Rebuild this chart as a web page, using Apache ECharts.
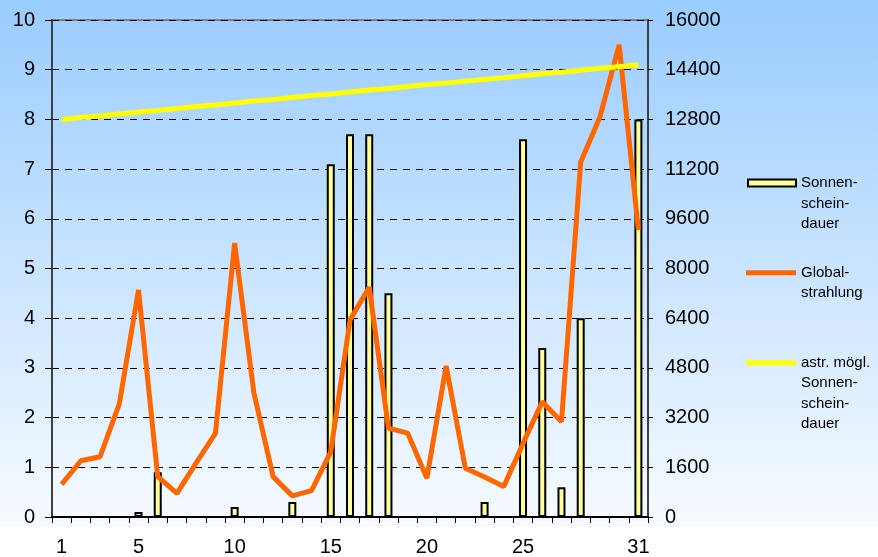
<!DOCTYPE html>
<html>
<head>
<meta charset="utf-8">
<script src="https://cdn.jsdelivr.net/npm/echarts@6/dist/echarts.min.js"></script>
<style>
html,body{margin:0;padding:0;background:#fff;}
#chart{width:878px;height:557px;}
</style>
</head>
<body>
<div id="chart"></div>
<script>
const days = ['1','2','3','4','5','6','7','8','9','10','11','12','13','14','15','16','17','18','19','20','21','22','23','24','25','26','27','28','29','30','31'];
const shownDayLabels = ['1','5','10','15','20','25','31'];
// Sonnenscheindauer (h), left axis
const sunshine = [0,0,0,0,0.1,0.9,0,0,0,0.2,0,0,0.3,0,7.1,7.7,7.7,4.5,0,0,0,0,0.3,0,7.6,3.4,0.6,4.0,0,0,8.0];
// Globalstrahlung, right axis
const globalRad = [1050,1810,1940,3640,7310,1300,760,1740,2690,8820,4000,1300,680,850,2100,6340,7400,2860,2700,1250,4860,1570,1290,980,2370,3710,3070,11430,12880,15200,9240];
// astr. mögl. Sonnenscheindauer (h), left axis
const astro = [8.00,8.04,8.07,8.11,8.15,8.18,8.22,8.26,8.29,8.33,8.37,8.40,8.44,8.48,8.51,8.55,8.59,8.62,8.66,8.70,8.73,8.77,8.81,8.84,8.88,8.92,8.95,8.99,9.03,9.06,9.10];
const leftTicks = {min:0, max:10, interval:1};
const rightTicks = {min:0, max:16000, interval:1600};
const seriesNames = ['Sonnenscheindauer','Globalstrahlung','astr. mögl. Sonnenscheindauer'];
const legendLines = [['Sonnen-','schein-','dauer'],['Global-','strahlung'],['astr. mögl.','Sonnen-','schein-','dauer']];

const FONT = '"Liberation Sans", Arial, sans-serif';
const chart = echarts.init(document.getElementById('chart'));
const LH = 20.5;
const iconCenters = [183, 272.7, 362.7];
const legends = seriesNames.map((n, i) => {
  const lines = legendLines[i];
  const blanks = new Array(lines.length - 1).fill(' ');
  const all = blanks.concat(lines);
  const h = all.length * LH;
  const isBar = i === 0;
  return {
    show: true,
    data: [n],
    orient: 'vertical',
    left: isBar ? 747 : 746,
    top: iconCenters[i] - h / 2,
    itemWidth: isBar ? 48 : 50,
    itemHeight: isBar ? 7 : 5,
    icon: 'rect',
    selectedMode: false,
    padding: 0,
    formatter: () => all.join('\n'),
    textStyle: {fontFamily: FONT, fontSize: 15, lineHeight: LH, color: '#000'}
  };
});

const option = {
  animation: false,
  backgroundColor: {
    type: 'linear', x: 0, y: 0, x2: 0, y2: 1,
    colorStops: [
      {offset: 0, color: '#99ccff'},
      {offset: 0.945, color: '#f7fbff'},
      {offset: 0.946, color: '#ffffff'},
      {offset: 1, color: '#ffffff'}
    ]
  },
  grid: {left: 52, right: 230, top: 20, bottom: 40, show: true, borderColor: '#808080', borderWidth: 2, backgroundColor: 'transparent'},
  legend: legends,
  xAxis: {
    type: 'category',
    data: days,
    boundaryGap: true,
    axisLine: {lineStyle: {color: '#000', width: 2}},
    axisTick: {show: true, interval: 0, length: 6, lineStyle: {color: '#000', width: 1}},
    axisLabel: {
      interval: (idx, val) => shownDayLabels.includes(val),
      fontFamily: FONT, fontSize: 20, color: '#000', margin: 20
    },
    splitLine: {show: false}
  },
  yAxis: [
    {
      type: 'value', min: leftTicks.min, max: leftTicks.max, interval: leftTicks.interval,
      axisLine: {show: true, lineStyle: {color: '#404040', width: 2}},
      axisTick: {show: true, length: 7, lineStyle: {color: '#000', width: 1}},
      axisLabel: {fontFamily: FONT, fontSize: 20, color: '#000', margin: 17},
      splitLine: {show: true, lineStyle: {color: '#000', width: 1, type: [7, 6]}}
    },
    {
      type: 'value', min: rightTicks.min, max: rightTicks.max, interval: rightTicks.interval,
      position: 'right',
      axisLine: {show: true, lineStyle: {color: '#404040', width: 2}},
      axisTick: {show: true, length: 5, lineStyle: {color: '#000', width: 1}},
      axisLabel: {fontFamily: FONT, fontSize: 20, color: '#000', margin: 17, formatter: v => String(v)},
      splitLine: {show: false}
    }
  ],
  series: [
    {
      name: seriesNames[0], type: 'bar', yAxisIndex: 0, barWidth: 8,
      data: sunshine.map(v => v === 0 ? '-' : v),
      itemStyle: {color: '#ffff99', borderColor: '#000', borderWidth: 2}
    },
    {
      name: seriesNames[1], type: 'line', yAxisIndex: 1, symbol: 'none',
      data: globalRad,
      itemStyle: {color: '#ff6600'},
      lineStyle: {color: '#ff6600', width: 5, join: 'bevel'}
    },
    {
      name: seriesNames[2], type: 'line', yAxisIndex: 0, symbol: 'none',
      data: astro,
      itemStyle: {color: '#ffff00'},
      lineStyle: {color: '#ffff00', width: 5}
    }
  ]
};
chart.setOption(option);
</script>
</body>
</html>
